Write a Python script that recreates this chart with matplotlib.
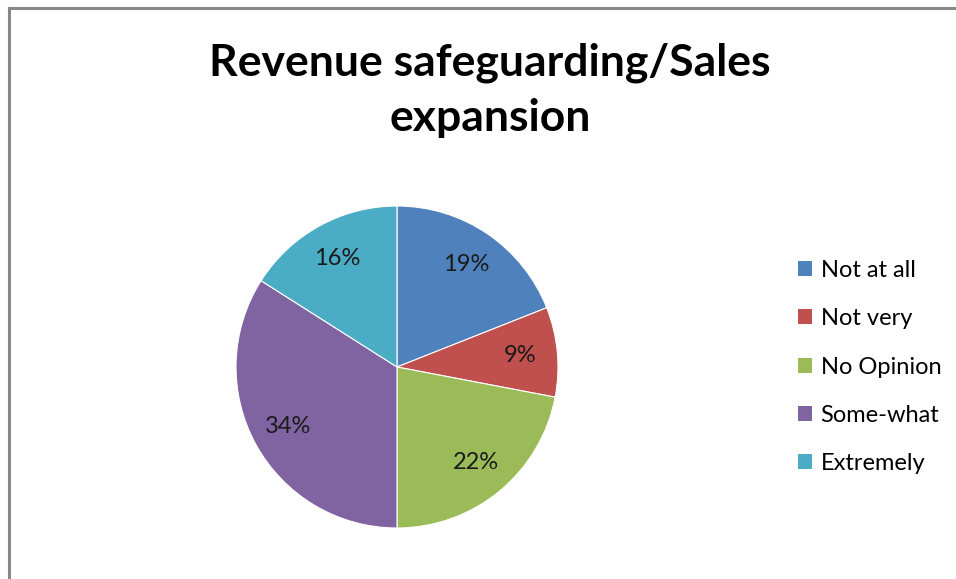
import matplotlib.pyplot as plt
from matplotlib.patches import Patch
from matplotlib.lines import Line2D

categories = ['Not at all', 'Not very', 'No Opinion', 'Some-what', 'Extremely']
shares = [19, 9, 22, 34, 16]
colors = ['#4F81BD', '#C0504D', '#9BBB59', '#8064A2', '#4BACC6']

plt.rcParams['font.family'] = ['Lato', 'DejaVu Sans']

fig = plt.figure(figsize=(9.56, 5.79), dpi=100)

# chart frame (only top and left edges show in the crop)
fig.add_artist(Line2D([9 / 956, 1.0], [1 - 8 / 579] * 2, color='#888888', lw=2.2,
                      transform=fig.transFigure))
fig.add_artist(Line2D([9 / 956] * 2, [0.0, 1 - 8 / 579], color='#888888', lw=2.2,
                      transform=fig.transFigure))

fig.text(490 / 956, 1 - 90 / 579, 'Revenue safeguarding/Sales\nexpansion',
         ha='center', va='center', fontsize=32, fontweight='bold',
         linespacing=1.45, color='black')

# pie centred at (397, 367), radius ~161 px
ax = fig.add_axes([(397 - 161) / 956, (579 - 367 - 161) / 579, 322 / 956, 322 / 579])
wedges, texts, autotexts = ax.pie(
    shares, colors=colors, startangle=90, counterclock=False,
    autopct='%1.0f%%', pctdistance=0.77,
    wedgeprops=dict(edgecolor='white', linewidth=0.8),
    textprops=dict(fontsize=17, color='#1a1a1a'))
ax.set_xlim(-1, 1)
ax.set_ylim(-1, 1)
ax.set_aspect('equal')

handles = [Patch(facecolor=c, edgecolor='none') for c in colors]
fig.legend(handles, categories, loc='center left',
           bbox_to_anchor=(777 / 956, 1 - 367 / 579), frameon=False,
           fontsize=17, handlelength=0.6, handleheight=0.6,
           handletextpad=0.35, labelspacing=1.16)

fig.savefig('out.png', dpi=100)
